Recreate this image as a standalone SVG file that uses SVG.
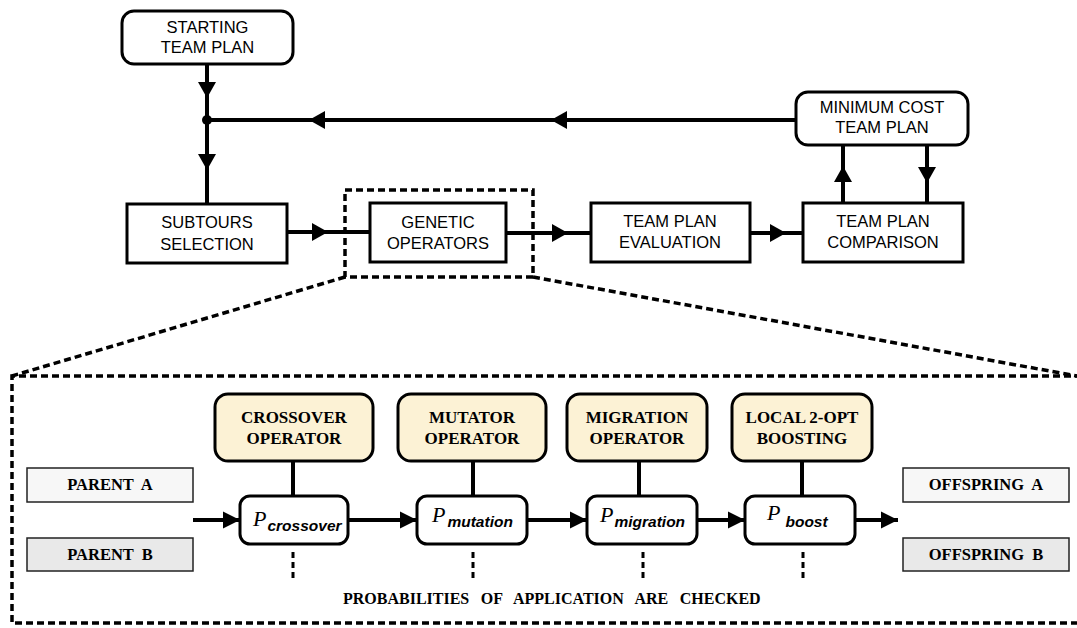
<svg xmlns="http://www.w3.org/2000/svg" width="1077" height="628" viewBox="0 0 1077 628">
<style>
.box{fill:#fff;stroke:#000;stroke-width:3}
.op{fill:#fcf2d5;stroke:#000;stroke-width:3}
.pbox{fill:#fff;stroke:#000;stroke-width:3}
.ln{stroke:#000;stroke-width:4;fill:none}
.dash{stroke:#000;stroke-width:3.5;fill:none;stroke-dasharray:7 4}
.dot{stroke:#000;stroke-width:3;fill:none;stroke-dasharray:6 4}
.t{font-family:"Liberation Sans",Arial,sans-serif;font-size:16.5px;fill:#000;text-anchor:middle}
.tb{font-family:"Liberation Serif","Times New Roman",serif;font-weight:bold;font-size:17px;fill:#000;text-anchor:middle}
.tp{font-family:"Liberation Serif","Times New Roman",serif;font-weight:bold;font-size:16.5px;fill:#000;text-anchor:middle;word-spacing:4px}
.pa{fill:#f7f7f7;stroke:#222;stroke-width:1.5}
.pb{fill:#e9e9e9;stroke:#222;stroke-width:1.5}
.P{font-family:"Liberation Serif","Times New Roman",serif;font-style:italic;font-size:22px}
.sub{font-family:"Liberation Sans",Arial,sans-serif;font-style:italic;font-weight:bold;font-size:15.5px}
</style>
<defs>
<path id="ah" d="M0,0 L-16,-9 L-16,9 Z" fill="#000"/>
<path id="ah2" d="M0,0 L-17,-8.5 L-17,8.5 Z" fill="#000"/>
</defs>

<g id="connectors">
<line class="ln" x1="207" y1="64" x2="207" y2="204"/>
<line class="ln" x1="207" y1="120" x2="796" y2="120"/>
<circle cx="207" cy="120" r="5" fill="#000"/>
<use href="#ah" transform="translate(207,98) rotate(90)"/>
<use href="#ah" transform="translate(207,170) rotate(90)"/>
<use href="#ah" transform="translate(309,120) rotate(180)"/>
<use href="#ah" transform="translate(551,120) rotate(180)"/>
<line class="ln" x1="287" y1="232" x2="370" y2="232"/>
<use href="#ah" transform="translate(328,232)"/>
<line class="ln" x1="506" y1="233" x2="591" y2="233"/>
<use href="#ah" transform="translate(568,233)"/>
<line class="ln" x1="750" y1="233" x2="803" y2="233"/>
<use href="#ah" transform="translate(786,233)"/>
<line class="ln" x1="843" y1="203" x2="843" y2="145"/>
<use href="#ah" transform="translate(843,166) rotate(-90)"/>
<line class="ln" x1="927" y1="145" x2="927" y2="203"/>
<use href="#ah" transform="translate(927,183) rotate(90)"/>

<rect class="dash" x="345" y="190" width="188" height="87"/>
<line class="dash" x1="345" y1="277" x2="12" y2="376"/>
<line class="dash" x1="533" y1="277" x2="1077" y2="376"/>
<path class="dash" d="M1082,376 L12,376 L12,623 L1082,623"/>

<line class="ln" x1="193" y1="520" x2="240" y2="520"/>
<use href="#ah2" transform="translate(240,520)"/>
<line class="ln" x1="348" y1="520" x2="417" y2="520"/>
<use href="#ah2" transform="translate(417,520)"/>
<line class="ln" x1="527" y1="520" x2="587" y2="520"/>
<use href="#ah2" transform="translate(587,520)"/>
<line class="ln" x1="697" y1="520" x2="745" y2="520"/>
<use href="#ah2" transform="translate(745,520)"/>
<line class="ln" x1="855" y1="520" x2="898" y2="520"/>
<use href="#ah2" transform="translate(898,520)"/>

<line class="ln" x1="293" y1="461" x2="293" y2="496"/>
<line class="ln" x1="473" y1="461" x2="473" y2="496"/>
<line class="ln" x1="639" y1="461" x2="639" y2="496"/>
<line class="ln" x1="802" y1="461" x2="802" y2="496"/>
<line class="dot" x1="293" y1="552" x2="293" y2="580"/>
<line class="dot" x1="473" y1="552" x2="473" y2="580"/>
<line class="dot" x1="643" y1="552" x2="643" y2="580"/>
<line class="dot" x1="803" y1="552" x2="803" y2="580"/>
</g>

<g id="starting">
<rect class="box" x="122" y="11" width="171" height="53" rx="12"/>
<text class="t" x="207.5" y="33">STARTING</text>
<text class="t" x="207.5" y="53">TEAM PLAN</text>
</g>
<g id="mincost">
<rect class="box" x="796" y="92" width="172" height="53" rx="12"/>
<text class="t" x="882" y="113">MINIMUM COST</text>
<text class="t" x="882" y="133">TEAM PLAN</text>
</g>
<g id="subtours">
<rect class="box" x="127" y="204" width="160" height="59"/>
<text class="t" x="207" y="228">SUBTOURS</text>
<text class="t" x="207" y="250">SELECTION</text>
</g>
<g id="genetic">
<rect class="box" x="370" y="203" width="136" height="59"/>
<text class="t" x="438" y="228">GENETIC</text>
<text class="t" x="438" y="249">OPERATORS</text>
</g>
<g id="evaluation">
<rect class="box" x="591" y="203" width="159" height="59"/>
<text class="t" x="670" y="227">TEAM PLAN</text>
<text class="t" x="670" y="248">EVALUATION</text>
</g>
<g id="comparison">
<rect class="box" x="803" y="203" width="160" height="59"/>
<text class="t" x="883" y="227">TEAM PLAN</text>
<text class="t" x="883" y="248">COMPARISON</text>
</g>

<g id="parentA">
<rect class="pa" x="27" y="468" width="166" height="34"/>
<text class="tp" x="110" y="490">PARENT  A</text>
</g>
<g id="parentB">
<rect class="pb" x="27" y="538" width="166" height="33"/>
<text class="tp" x="110" y="560">PARENT  B</text>
</g>
<g id="offspringA">
<rect class="pa" x="903" y="468" width="166" height="34"/>
<text class="tp" x="986" y="490">OFFSPRING  A</text>
</g>
<g id="offspringB">
<rect class="pb" x="903" y="538" width="166" height="33"/>
<text class="tp" x="986" y="560">OFFSPRING  B</text>
</g>

<g id="crossover">
<rect class="op" x="215" y="394" width="158" height="67" rx="13"/>
<text class="tb" x="294" y="423">CROSSOVER</text>
<text class="tb" x="294" y="444">OPERATOR</text>
</g>
<g id="mutator">
<rect class="op" x="398" y="394" width="148" height="67" rx="13"/>
<text class="tb" x="472" y="423">MUTATOR</text>
<text class="tb" x="472" y="444">OPERATOR</text>
</g>
<g id="migration">
<rect class="op" x="567" y="394" width="140" height="67" rx="13"/>
<text class="tb" x="637" y="423">MIGRATION</text>
<text class="tb" x="637" y="444">OPERATOR</text>
</g>
<g id="boosting">
<rect class="op" x="732" y="394" width="140" height="67" rx="13"/>
<text class="tb" x="802" y="423">LOCAL 2-OPT</text>
<text class="tb" x="802" y="444">BOOSTING</text>
</g>

<g id="pcrossover">
<rect class="pbox" x="240" y="496" width="108" height="48" rx="10"/>
<text x="253" y="526"><tspan class="P">P</tspan><tspan class="sub" dx="1" dy="5">crossover</tspan></text>
</g>
<g id="pmutation">
<rect class="pbox" x="417" y="496" width="110" height="48" rx="10"/>
<text x="432" y="522"><tspan class="P">P</tspan><tspan class="sub" dx="2" dy="5">mutation</tspan></text>
</g>
<g id="pmigration">
<rect class="pbox" x="587" y="496" width="110" height="48" rx="10"/>
<text x="600" y="522"><tspan class="P">P</tspan><tspan class="sub" dx="1" dy="5">migration</tspan></text>
</g>
<g id="pboost">
<rect class="pbox" x="745" y="496" width="110" height="48" rx="10"/>
<text x="767" y="520"><tspan class="P">P</tspan><tspan class="sub" dx="5" dy="7">boost</tspan></text>
</g>

<g id="note">
<text x="343" y="604" font-family="Liberation Serif,Times New Roman,serif" font-weight="bold" font-size="16" word-spacing="7.5">PROBABILITIES OF APPLICATION ARE CHECKED</text>
</g>
</svg>
